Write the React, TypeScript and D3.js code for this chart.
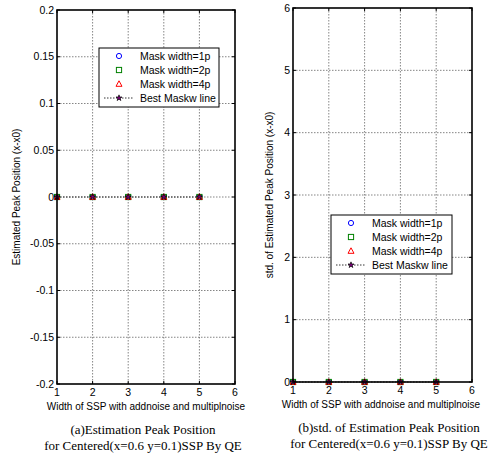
import React from 'react';
import * as d3 from 'd3';

// mask width on x, measured error on y
const sspWidths = [1, 2, 3, 4, 5];
const posMask1p = [0, 0, 0, 0, 0];
const posMask2p = [0, 0, 0, 0, 0];
const posMask4p = [0, 0, 0, 0, 0];
const posBest = [0, 0, 0, 0, 0];
const stdMask1p = [0, 0, 0, 0, 0];
const stdMask2p = [0, 0, 0, 0, 0];
const stdMask4p = [0, 0, 0, 0, 0];
const stdBest = [0, 0, 0, 0, 0];

const xTicks = [1, 2, 3, 4, 5, 6];
const posTicks = [-0.2, -0.15, -0.1, -0.05, 0, 0.05, 0.1, 0.15, 0.2];
const stdTicks = [0, 1, 2, 3, 4, 5, 6];
const legendNames = ['Mask width=1p', 'Mask width=2p', 'Mask width=4p', 'Best Maskw line'];

const sans = 'Arial, "Liberation Sans", sans-serif';
const serif = '"Times New Roman", "Liberation Serif", serif';

function Marker({ kind, x, y }) {
  if (kind === 0) return <circle cx={x} cy={y} r={2.6} fill="none" stroke="#0000ff" strokeWidth={1} />;
  if (kind === 1) return <rect x={x - 2.6} y={y - 2.6} width={5.2} height={5.2} fill="none" stroke="#008000" strokeWidth={1} />;
  if (kind === 2) return <path d={`M${x},${y - 3.2}L${x + 3},${y + 2.3}L${x - 3},${y + 2.3}Z`} fill="none" stroke="#ff0000" strokeWidth={1} />;
  const star = d3.symbol().type(d3.symbolStar).size(11)();
  return <path d={star} transform={`translate(${x},${y})`} fill="#800080" stroke="#000" strokeWidth={0.7} />;
}

function Panel(props) {
  const { left, right, top, bottom, yDomain, yTicks, series, legend, yLabel, yLabelOff, xLabel, xLabelX, capX, cap1, cap2 } = props;
  const x = d3.scaleLinear().domain([1, 6]).range([left, right]);
  const y = d3.scaleLinear().domain(yDomain).range([bottom, top]);
  const line = d3.line().x((d) => x(d[0])).y((d) => y(d[1]));
  const lg = legend;
  return (
    <g>
      {xTicks.slice(1, -1).map((t) => (
        <line key={'gx' + t} x1={x(t)} x2={x(t)} y1={top} y2={bottom} stroke="#333" strokeWidth={0.6} strokeDasharray="1.5,1.5" />
      ))}
      {yTicks.slice(1, -1).map((t) => (
        <line key={'gy' + t} x1={left} x2={right} y1={y(t)} y2={y(t)} stroke="#333" strokeWidth={0.6} strokeDasharray="1.5,1.5" />
      ))}
      {xTicks.map((t) => (
        <g key={'tx' + t}>
          <line x1={x(t)} x2={x(t)} y1={bottom} y2={bottom - 3} stroke="#000" />
          <line x1={x(t)} x2={x(t)} y1={top} y2={top + 3} stroke="#000" />
          <text x={x(t)} y={bottom + 12} textAnchor="middle" fontSize={10.5} fontFamily={sans}>{t}</text>
        </g>
      ))}
      {yTicks.map((t) => (
        <g key={'ty' + t}>
          <line x1={left} x2={left + 3} y1={y(t)} y2={y(t)} stroke="#000" />
          <line x1={right} x2={right - 3} y1={y(t)} y2={y(t)} stroke="#000" />
          <text x={left - 3} y={y(t) + 3.5} textAnchor="end" fontSize={10.5} fontFamily={sans}>{String(t)}</text>
        </g>
      ))}
      <path d={line(sspWidths.map((w, i) => [w, series[3][i]]))} fill="none" stroke="#000" strokeWidth={0.8} strokeDasharray="1.5,1.5" />
      {series.map((s, k) =>
        s.map((v, i) => <Marker key={k + '-' + i} kind={k} x={x(sspWidths[i])} y={y(v)} />)
      )}
      <rect x={left} y={top} width={right - left} height={bottom - top} fill="none" stroke="#000" strokeWidth={1.6} />
      <rect x={lg.x} y={lg.y} width={lg.w} height={lg.h} fill="#fff" stroke="#000" strokeWidth={1} />
      {legendNames.map((n, k) => {
        const ly = lg.y + 8 + k * 14;
        return (
          <g key={n}>
            {k === 3 && <line x1={lg.x + 5} x2={lg.x + 34} y1={ly} y2={ly} stroke="#000" strokeWidth={0.8} strokeDasharray="1.5,1.5" />}
            <Marker kind={k} x={lg.x + 20} y={ly} />
            <text x={lg.x + 41} y={ly + 3.8} fontSize={10.5} fontFamily={sans}>{n}</text>
          </g>
        );
      })}
      <text transform={`translate(${left - yLabelOff},${(top + bottom) / 2}) rotate(-90)`} textAnchor="middle" fontSize={10} fontFamily={sans}>{yLabel}</text>
      <text x={xLabelX} y={bottom + 26} textAnchor="middle" fontSize={10} fontFamily={sans}>{xLabel}</text>
      <text x={capX} y={bottom + 50} textAnchor="middle" fontSize={13} fontFamily={serif}>{cap1}</text>
      <text x={capX} y={bottom + 66} textAnchor="middle" fontSize={13} fontFamily={serif}>{cap2}</text>
    </g>
  );
}

export default function App() {
  return (
    <svg width={491} height={457} style={{ position: 'absolute', left: 0, top: 0, background: '#fff' }}>
      <rect width={491} height={457} fill="#fff" />
      <Panel
        left={57} right={235} top={10} bottom={384}
        yDomain={[-0.2, 0.2]} yTicks={posTicks}
        series={[posMask1p, posMask2p, posMask4p, posBest]}
        legend={{ x: 99, y: 48, w: 120, h: 59 }}
        yLabel="Estimated Peak Position (x-x0)" yLabelOff={37}
        xLabel="Width of SSP with addnoise and multiplnoise" xLabelX={146}
        capX={143}
        cap1="(a)Estimation Peak Position"
        cap2="for Centered(x=0.6 y=0.1)SSP By QE"
      />
      <Panel
        left={293} right={472} top={8} bottom={382}
        yDomain={[0, 6]} yTicks={stdTicks}
        series={[stdMask1p, stdMask2p, stdMask4p, stdBest]}
        legend={{ x: 331, y: 215, w: 121, h: 59 }}
        yLabel="std. of Estimated Peak Position (x-x0)" yLabelOff={20}
        xLabel="Width of SSP with addnoise and multiplnoise" xLabelX={381}
        capX={389}
        cap1="(b)std. of Estimation Peak Position"
        cap2="for Centered(x=0.6 y=0.1)SSP By QE"
      />
    </svg>
  );
}
